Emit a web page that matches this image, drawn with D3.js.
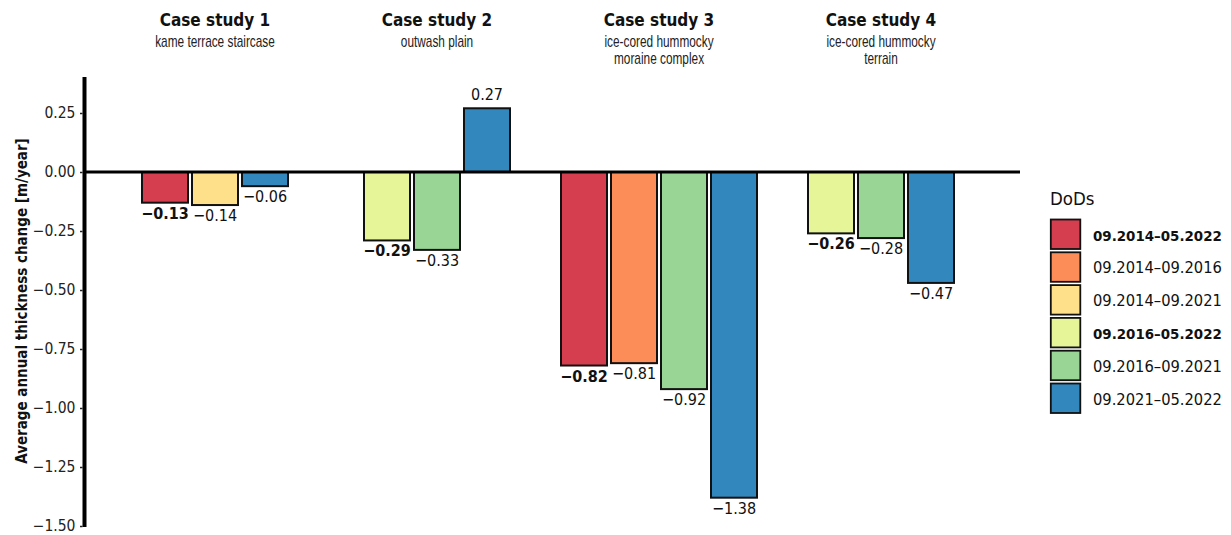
<!DOCTYPE html>
<html>
<head>
<meta charset="utf-8">
<script src="https://cdn.jsdelivr.net/npm/d3@7/dist/d3.min.js"></script>
<style>
  html, body { margin: 0; padding: 0; background: #fff; }
  svg { display: block; }
  .cond { font-family: "DejaVu Sans Condensed", "DejaVu Sans", sans-serif; font-stretch: condensed; }
  .narrow { font-family: "Liberation Sans", Arial, sans-serif; }
</style>
</head>
<body>
<svg id="chart" width="1231" height="535"></svg>
<script>
// Case studies and their subtitles
const cases = ["Case study 1", "Case study 2", "Case study 3", "Case study 4"];
const caseSubtitles = [
  ["kame terrace staircase"],
  ["outwash plain"],
  ["ice-cored hummocky", "moraine complex"],
  ["ice-cored hummocky", "terrain"]
];

// DEM-of-difference periods (legend order) and their colours
const dods = ["09.2014–05.2022", "09.2014–09.2016", "09.2014–09.2021",
              "09.2016–05.2022", "09.2016–09.2021", "09.2021–05.2022"];
const dodColors = ["#d53e4f", "#fc8d59", "#fee08b", "#e6f598", "#99d594", "#3288bd"];
const boldDods = ["09.2014–05.2022", "09.2016–05.2022"];

// Average annual thickness change [m/year] per case study
const case1Dods = ["09.2014–05.2022", "09.2014–09.2021", "09.2021–05.2022"];
const case1Values = [-0.13, -0.14, -0.06];
const case2Dods = ["09.2016–05.2022", "09.2016–09.2021", "09.2021–05.2022"];
const case2Values = [-0.29, -0.33, 0.27];
const case3Dods = ["09.2014–05.2022", "09.2014–09.2016", "09.2016–09.2021", "09.2021–05.2022"];
const case3Values = [-0.82, -0.81, -0.92, -1.38];
const case4Dods = ["09.2016–05.2022", "09.2016–09.2021", "09.2021–05.2022"];
const case4Values = [-0.26, -0.28, -0.47];

const yTicks = [0.25, 0, -0.25, -0.5, -0.75, -1, -1.25, -1.5];

const groups = [
  { name: cases[0], dods: case1Dods, values: case1Values },
  { name: cases[1], dods: case2Dods, values: case2Values },
  { name: cases[2], dods: case3Dods, values: case3Values },
  { name: cases[3], dods: case4Dods, values: case4Values }
];

const svg = d3.select("#chart");

const x = d3.scaleBand().domain(cases).range([104, 992]);
const y = d3.scaleLinear().domain([-1.5, 0.4]).range([526, 77.6]);
const color = d3.scaleOrdinal().domain(dods).range(dodColors);

const axisX = 84.5;
const plotRight = 1020;
const barStep = 50;
const fmt = v => d3.format(".2f")(v).replace("-", "\u2212");

// Y axis
const yAxis = svg.append("g")
  .attr("transform", `translate(${axisX},0)`)
  .call(d3.axisLeft(y).tickValues(yTicks).tickSize(4).tickPadding(4).tickFormat(fmt));
yAxis.select(".domain").remove();
yAxis.selectAll(".tick line").attr("stroke", "#222").attr("stroke-width", 1.5).attr("x1", -4.5).attr("x2", -2);
yAxis.selectAll(".tick text")
  .attr("class", "cond")
  .attr("font-size", 15.5)
  .attr("fill", "#222")
  .attr("x", -9);

svg.append("line")
  .attr("x1", axisX).attr("x2", axisX)
  .attr("y1", y(0.4) - 0.5).attr("y2", y(-1.5) + 1)
  .attr("stroke", "#000").attr("stroke-width", 4);

// Y axis title
svg.append("text")
  .attr("class", "cond")
  .attr("transform", "translate(27,301) rotate(-90)")
  .attr("text-anchor", "middle")
  .attr("font-size", 15)
  .attr("font-weight", "bold")
  .attr("fill", "#111")
  .text("Average annual thickness change [m/year]");

// Bars per case study
groups.forEach(g => {
  const c = x(g.name) + x.bandwidth() / 2;
  const n = g.dods.length;
  const inner = d3.scaleBand().domain(g.dods)
    .range([c - n * barStep / 2, c + n * barStep / 2])
    .paddingInner(0.08).paddingOuter(0.04);
  const rows = g.dods.map((d, i) => ({ dod: d, value: g.values[i] }));
  const gg = svg.append("g");

  gg.selectAll("rect").data(rows).join("rect")
    .attr("x", d => inner(d.dod))
    .attr("width", inner.bandwidth())
    .attr("y", d => y(Math.max(0, d.value)))
    .attr("height", d => Math.abs(y(d.value) - y(0)))
    .attr("fill", d => color(d.dod))
    .attr("stroke", "#111")
    .attr("stroke-width", 2);

  gg.selectAll("text.val").data(rows).join("text")
    .attr("class", "val cond")
    .attr("x", d => inner(d.dod) + inner.bandwidth() / 2)
    .attr("y", d => d.value < 0 ? y(d.value) + 16 : y(d.value) - 8)
    .attr("text-anchor", "middle")
    .attr("font-size", 16)
    .attr("font-weight", d => boldDods.includes(d.dod) ? "bold" : "normal")
    .attr("fill", "#111")
    .text(d => fmt(d.value));

  // Case study heading
  gg.append("text")
    .attr("class", "cond")
    .attr("x", c).attr("y", 26)
    .attr("text-anchor", "middle")
    .attr("font-size", 17)
    .attr("font-weight", "bold")
    .attr("fill", "#111")
    .text(g.name);
  caseSubtitles[cases.indexOf(g.name)].forEach((line, i) => {
    gg.append("text")
      .attr("class", "narrow")
      .attr("transform", `translate(${c},${47 + i * 16.5}) scale(0.74,1)`)
      .attr("text-anchor", "middle")
      .attr("font-size", 16)
      .attr("fill", "#222")
      .text(line);
  });
});

// Zero line
svg.append("line")
  .attr("x1", axisX).attr("x2", plotRight)
  .attr("y1", y(0)).attr("y2", y(0))
  .attr("stroke", "#000").attr("stroke-width", 3);

// Legend
const legend = svg.append("g").attr("transform", "translate(1050,0)");
legend.append("text")
  .attr("class", "cond")
  .attr("x", 0).attr("y", 205)
  .attr("font-size", 18.5)
  .attr("fill", "#111")
  .text("DoDs");
const step = 32.8;
const labelWidth = 129;
const labelSize = 16.5;
dods.forEach((d, i) => {
  const top = 219.5 + i * step;
  legend.append("rect")
    .attr("x", 0.8).attr("y", top)
    .attr("width", 29.5).attr("height", 29.5)
    .attr("fill", color(d))
    .attr("stroke", "#111").attr("stroke-width", 1.8);
  const t = legend.append("text")
    .attr("class", "cond")
    .attr("x", 43).attr("y", top + 21)
    .attr("font-size", labelSize)
    .attr("font-weight", boldDods.includes(d) ? "bold" : "normal")
    .attr("fill", "#111")
    .text(d);
  // bold entries are sized down to the width of the regular ones
  const w = t.node().getComputedTextLength();
  if (w > labelWidth) t.attr("font-size", labelSize * labelWidth / w);
});
</script>
</body>
</html>
